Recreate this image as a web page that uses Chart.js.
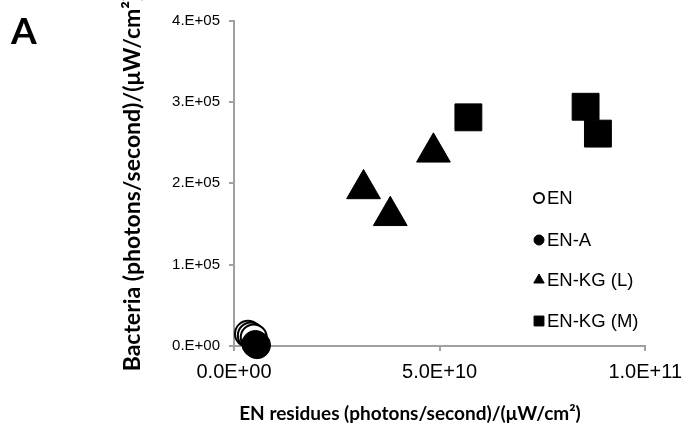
<!DOCTYPE html>
<html>
<head>
<meta charset="utf-8">
<script src="https://cdn.jsdelivr.net/npm/chart.js@4.4.0/dist/chart.umd.min.js"></script>
<style>
  html, body { margin: 0; padding: 0; background: #fff; }
</style>
</head>
<body>
<canvas id="myChart" width="691" height="434"></canvas>
<script>
// values
const seriesNames = ['EN', 'EN-A', 'EN-KG (L)', 'EN-KG (M)'];
const enX  = [3.4e9, 4.1e9, 4.8e9];
const enY  = [1.5e4, 1.3e4, 1.05e4];
const enAX = [5.2e9, 5.6e9];
const enAY = [2.5e3, 1.0e3];
const kgLX = [3.15e10, 3.8e10, 4.85e10];
const kgLY = [1.93e5, 1.6e5, 2.38e5];
const kgMX = [5.7e10, 8.55e10, 8.85e10];
const kgMY = [2.81e5, 2.94e5, 2.61e5];
const xTicks = [0, 5e10, 1e11];
const yTicks = [0, 1e5, 2e5, 3e5, 4e5];

const panelLabel = 'A';
const xTitle = 'EN residues (photons/second)/(\u03bcW/cm\u00b2)';
const yTitle = 'Bacteria (photons/second)/(\u03bcW/cm\u00b2)';

const toPoints = (xs, ys) => xs.map((x, i) => ({x: x, y: ys[i]}));

// excel style "0.0E+00"
function sci(v, digits) {
  let s = v.toExponential(digits);
  let parts = s.split('e');
  let mant = parts[0];
  if (digits === 0) mant += '.';
  let exp = parseInt(parts[1], 10);
  let sign = exp < 0 ? '-' : '+';
  let e = String(Math.abs(exp)).padStart(2, '0');
  return mant + 'E' + sign + e;
}

const axisGray = '#a0a0a0';

const legendY = [198, 240, 280, 321];

const annotate = {
  id: 'annotate',
  afterDraw(chart) {
    const ctx = chart.ctx;
    ctx.save();
    ctx.fillStyle = '#000';
    ctx.font = 'bold 37px Lato';
    ctx.textAlign = 'left';
    ctx.textBaseline = 'alphabetic';
    ctx.fillText(panelLabel, 11, 44);

    ctx.font = 'bold 19px Lato';
    ctx.textAlign = 'center';
    ctx.textBaseline = 'middle';
    ctx.fillText(xTitle, 410, 414);

    ctx.font = 'bold 23px Lato';
    ctx.translate(133, 183);
    ctx.rotate(-Math.PI / 2);
    ctx.fillText(yTitle, 0, 0);
    ctx.restore();

    // legend inside the plot
    ctx.save();
    chart.data.datasets.forEach((ds, i) => {
      const y = legendY[i];
      ctx.fillStyle = ds.backgroundColor;
      ctx.strokeStyle = ds.borderColor;
      ctx.lineWidth = ds.pointStyle === 'circle' && ds.backgroundColor === '#ffffff' ? 2 : 1;
      const r = ds.pointStyle === 'rect' ? 7 : (ds.pointStyle === 'triangle' ? 6 : 5);
      Chart.helpers.drawPoint(ctx, {pointStyle: ds.pointStyle, radius: r, borderWidth: ctx.lineWidth, rotation: 0}, 539, y);
      ctx.fillStyle = '#000';
      ctx.font = '18.5px "Liberation Sans", Arial';
      ctx.textAlign = 'left';
      ctx.textBaseline = 'middle';
      ctx.fillText(ds.label, 547, y + 1);
    });
    ctx.restore();
  }
};

new Chart('myChart', {
  type: 'scatter',
  data: {
    datasets: [
      {label: seriesNames[0], data: toPoints(enX, enY), pointStyle: 'circle', pointRadius: 13,
       backgroundColor: '#ffffff', borderColor: '#000000', borderWidth: 2, order: 2, clip: false},
      {label: seriesNames[1], data: toPoints(enAX, enAY), pointStyle: 'circle', pointRadius: 13.5,
       backgroundColor: '#000000', borderColor: '#000000', borderWidth: 1, order: 1, clip: false},
      {label: seriesNames[2], data: toPoints(kgLX, kgLY), pointStyle: 'triangle', pointRadius: 19.5,
       backgroundColor: '#000000', borderColor: '#000000', borderWidth: 1, order: 1, clip: false},
      {label: seriesNames[3], data: toPoints(kgMX, kgMY), pointStyle: 'rect', pointRadius: 19,
       backgroundColor: '#000000', borderColor: '#000000', borderWidth: 1, order: 1, clip: false}
    ]
  },
  options: {
    responsive: false,
    animation: false,
    layout: { padding: { left: 0, top: 7, right: 43, bottom: 0 } },
    plugins: {
      legend: { display: false },
      tooltip: { enabled: false }
    },
    scales: {
      x: {
        type: 'linear',
        min: xTicks[0],
        max: xTicks[xTicks.length - 1],
        afterBuildTicks: (scale) => { scale.ticks = xTicks.map(v => ({value: v})); },
        afterFit: (scale) => { scale.height = 88; },
        grid: { drawOnChartArea: false, drawTicks: true, tickLength: 5, color: axisGray, lineWidth: 2 },
        border: { display: true, color: axisGray, width: 2 },
        ticks: {
          padding: 9,
          color: '#000',
          font: { family: '"Liberation Sans", Arial', size: 20 },
          maxRotation: 0,
          callback: (v) => sci(v, 1)
        }
      },
      y: {
        type: 'linear',
        min: yTicks[0],
        max: yTicks[yTicks.length - 1],
        afterBuildTicks: (scale) => { scale.ticks = yTicks.map(v => ({value: v})); },
        afterFit: (scale) => { scale.width = 234; scale.paddingTop = 0; scale.paddingBottom = 0; },
        grid: { drawOnChartArea: false, drawTicks: true, tickLength: 5, color: axisGray, lineWidth: 2 },
        border: { display: true, color: axisGray, width: 2 },
        ticks: {
          padding: 9,
          color: '#000',
          font: { family: '"Liberation Sans", Arial', size: 15 },
          callback: (v) => sci(v, 0)
        }
      }
    }
  },
  plugins: [annotate]
});
</script>
</body>
</html>
